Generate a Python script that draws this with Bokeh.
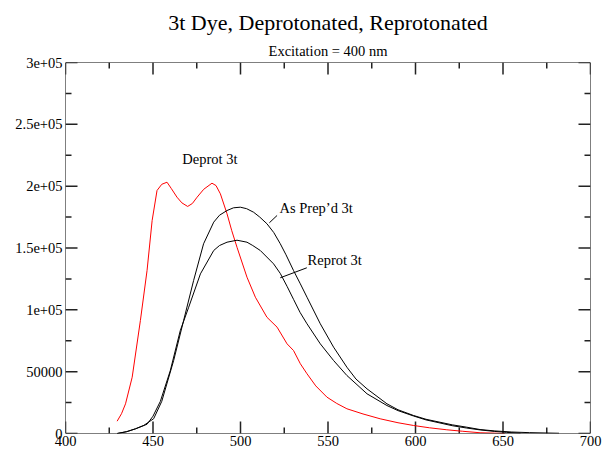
from bokeh.plotting import figure
from bokeh.models import Range1d, FixedTicker, Label, Title, Span
from bokeh.embed import file_html
from bokeh.resources import INLINE

# ---------------- data ----------------
deprot_x = [429.5, 432, 434.3, 438.1, 442.8, 446.6, 449.5, 452.3, 455, 458.0, 460.5, 463.7,
            466.5, 469.8, 472.5, 475.2, 479, 483.7, 486, 488.5, 492.3, 495, 498.0, 503.7,
            508.5, 515.1, 520.9, 526.6, 530.3, 534.2, 538.0, 543, 549.4, 555, 560.8, 570,
            579.8, 590, 598.8, 608, 617.9, 627, 636.9, 645, 651]
deprot_y = [9950, 16000, 24000, 45500, 91400, 131800, 172200, 196500, 201500, 203200, 198000, 191100,
            186500, 183600, 186000, 191100, 197500, 202400, 200500, 193800, 177700, 164000, 150600, 126400,
            110200, 94000, 86000, 72500, 67100, 56400, 48300, 38500, 29400, 24300, 20000, 15800,
            11900, 8700, 6500, 4600, 3000, 1800, 600, 300, 0]

asprep_x = [429.5, 435, 440, 444.7, 450.4, 455, 461.8, 467.5, 473.2, 478.9, 484.7, 488, 492.3,
            496, 499.9, 503.5, 507.5, 511, 515.1, 519, 522.7, 526, 530.3, 534.2, 538.0, 545.6,
            553.2, 560.8, 566, 572.3, 583.7, 590, 598.8, 606, 614.0, 621, 629.3, 636.9, 645,
            655, 665, 675, 682]
asprep_y = [0, 1500, 3800, 6500, 12000, 26000, 59000, 91400, 123700, 153400, 170900, 176500, 180300,
            182500, 183000, 181800, 178900, 175000, 169600, 162500, 153500, 144500, 131800, 121000, 110200, 88700,
            69800, 53600, 44000, 36100, 24000, 19200, 14600, 11500, 9100, 7000, 5100, 3200, 2100,
            1200, 700, 400, 200]

reprot_x = [429.5, 435, 440, 446.6, 450, 454.2, 459.9, 465.6, 470.4, 477.1, 484.7, 488, 492.3,
            498.0, 503.7, 507, 511.3, 518.9, 522.7, 526.6, 530.3, 534, 538, 545.6, 553.2, 560.8,
            572.3, 583.7, 590, 598.8, 606, 614.0, 621, 629.3, 636.9, 645, 652, 660]
reprot_y = [0, 1500, 3800, 7500, 14000, 26000, 50900, 83300, 102100, 129100, 148000, 152000, 154700,
            156300, 154700, 152000, 148000, 137200, 129500, 119000, 108500, 98000, 88700, 72500, 59000, 46900,
            32100, 22600, 18500, 14200, 11000, 8500, 6300, 4400, 2900, 1700, 900, 300]

x_ticks = [400, 450, 500, 550, 600, 650, 700]
x_minor = [425, 475, 525, 575, 625, 675]
x_labels = ["400", "450", "500", "550", "600", "650", "700"]
y_ticks = [0, 50000, 100000, 150000, 200000, 250000, 300000]
y_minor = [25000, 75000, 125000, 175000, 225000, 275000]
y_labels = ["0", "50000", "1e+05", "1.5e+05", "2e+05", "2.5e+05", "3e+05"]

title_text = "3t Dye, Deprotonated, Reprotonated"
subtitle_text = "Excitation = 400 nm"
series_names = ["Deprot 3t", "As Prep\u2019d 3t", "Reprot 3t"]

# annotation placement (data coords)
deprot_lbl = (482.5, 221600)
asprep_lbl = (522.3, 182200)
reprot_lbl = (538.3, 140500)
asprep_leader = ([516.5, 520.9], [170400, 176300])
reprot_leader = ([522.7, 537.9], [125900, 134000])

FONT = "Liberation Serif"
X0, X1, Y0, Y1 = 400, 700, 0, 300000
FRAME_W, FRAME_H = 525, 371
MAJOR_PX, MINOR_PX = 12, 6

p = figure(width=602, height=451, x_range=Range1d(X0, X1), y_range=Range1d(Y0, Y1),
           output_backend="svg", toolbar_location=None,
           min_border_left=65, min_border_right=12, min_border_top=62, min_border_bottom=18)
p.title.visible = False
p.xgrid.visible = False
p.ygrid.visible = False
p.outline_line_color = None
p.background_fill_color = "white"
p.border_fill_color = "white"


def style_axis(ax, ticks, labels, standoff):
    ax.ticker = FixedTicker(ticks=ticks, minor_ticks=[])
    ax.axis_line_color = None
    ax.major_tick_in = 0
    ax.major_tick_out = 0
    ax.minor_tick_in = 0
    ax.minor_tick_out = 0
    ax.major_label_standoff = standoff
    ax.major_label_overrides = {t: l for t, l in zip(ticks, labels)}
    ax.major_label_text_font = FONT
    ax.major_label_text_font_size = "14.5px"
    ax.major_label_text_color = "black"


style_axis(p.xaxis[0], x_ticks, x_labels, 2)
style_axis(p.yaxis[0], y_ticks, y_labels, 3)

# frame box
for loc, dim in ((X0, "height"), (X1, "height"), (Y0, "width"), (Y1, "width")):
    p.add_layout(Span(location=loc, dimension=dim, line_color="black", line_width=1))

# inward tick marks on all four sides, built from the tick arrays
dy_per_px = (Y1 - Y0) / FRAME_H
dx_per_px = (X1 - X0) / FRAME_W
TICK_COLOR = "#222222"
TICK_W = 1.5
for ticks, ln in ((x_ticks, MAJOR_PX), (x_minor, MINOR_PX)):
    n = len(ticks)
    p.segment(x0=ticks, y0=[Y0] * n, x1=ticks, y1=[Y0 + ln * dy_per_px] * n, line_color=TICK_COLOR, line_width=TICK_W)
    p.segment(x0=ticks, y0=[Y1] * n, x1=ticks, y1=[Y1 - ln * dy_per_px] * n, line_color=TICK_COLOR, line_width=TICK_W)
for ticks, ln in ((y_ticks, MAJOR_PX), (y_minor, MINOR_PX)):
    n = len(ticks)
    p.segment(x0=[X0] * n, y0=ticks, x1=[X0 + ln * dx_per_px] * n, y1=ticks, line_color=TICK_COLOR, line_width=TICK_W)
    p.segment(x0=[X1] * n, y0=ticks, x1=[X1 - ln * dx_per_px] * n, y1=ticks, line_color=TICK_COLOR, line_width=TICK_W)

p.add_layout(Title(text=subtitle_text, align="center", text_font=FONT, text_font_size="14.5px",
                   text_font_style="normal", text_color="black", standoff=7), "above")
p.add_layout(Title(text=title_text, align="center", text_font=FONT, text_font_size="22px",
                   text_font_style="normal", text_color="black", standoff=5), "above")

p.line(deprot_x, deprot_y, line_color="#ff0000", line_width=1)
p.line(asprep_x, asprep_y, line_color="black", line_width=1)
p.line(reprot_x, reprot_y, line_color="black", line_width=1)

p.line(asprep_leader[0], asprep_leader[1], line_color="black", line_width=1)
p.line(reprot_leader[0], reprot_leader[1], line_color="black", line_width=1)

p.add_layout(Label(x=deprot_lbl[0], y=deprot_lbl[1], text=series_names[0], text_align="center",
                   text_baseline="middle", text_font=FONT, text_font_size="14.5px", text_color="black"))
p.add_layout(Label(x=asprep_lbl[0], y=asprep_lbl[1], text=series_names[1], text_align="left",
                   text_baseline="middle", text_font=FONT, text_font_size="14.5px", text_color="black"))
p.add_layout(Label(x=reprot_lbl[0], y=reprot_lbl[1], text=series_names[2], text_align="left",
                   text_baseline="middle", text_font=FONT, text_font_size="14.5px", text_color="black"))

open("out.html", "w").write(file_html(p, INLINE))
